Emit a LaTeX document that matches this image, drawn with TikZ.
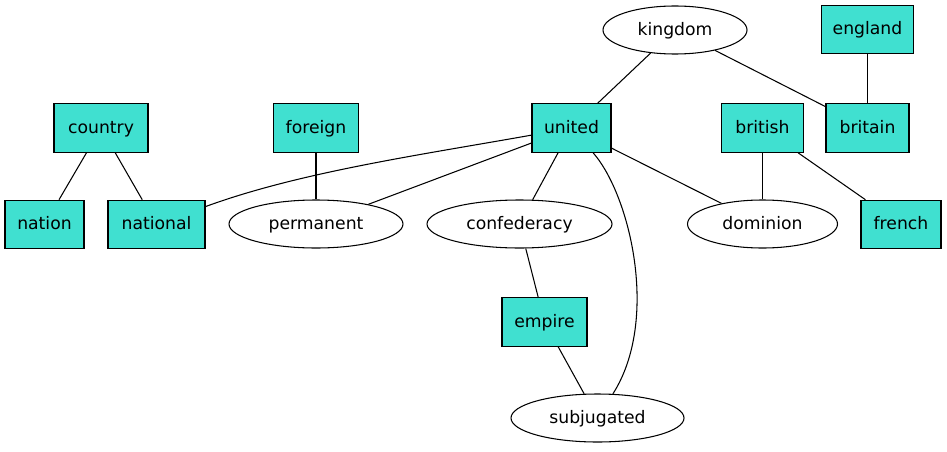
\documentclass[tikz,border=0pt]{standalone}
\usepackage{fontspec}
\setmainfont{DejaVu Sans}
\usepackage{tikz}
\usetikzlibrary{shapes.geometric}
\definecolor{turq}{HTML}{40E0D0}

\begin{document}
\begin{tikzpicture}[
        x=0.2mm, y=-0.2mm,
        term/.style={
            draw=black,
            fill=turq,
            rectangle,
            line width=0.6pt,
            minimum height=9.7mm,
            inner sep=0pt,
            text height=0.75em,
            text depth=0.18em,
            font=\fontsize{9.8pt}{11pt}\selectfont
          },
        word/.style={
            draw=black,
            fill=white,
            ellipse,
            line width=0.6pt,
            minimum height=9.6mm,
            inner sep=0pt,
            text height=0.75em,
            text depth=0.18em,
            font=\fontsize{9.8pt}{11pt}\selectfont
          },
        edge/.style={black, line width=0.6pt}
      ]
      \useasboundingbox (0,0) rectangle (947,451);

      \node[word, minimum width=28.8mm] (kingdom) at (675,30) {kingdom};
      \node[term, minimum width=18.4mm] (england) at (867.5,29.5) {england};

      \node[term, minimum width=18.8mm] (country) at (101,128) {country};
      \node[term, minimum width=17.0mm] (foreign) at (316,128) {foreign};
      \node[term, minimum width=15.8mm] (united) at (571.5,128) {united};
      \node[term, minimum width=16.4mm] (british) at (762.5,128) {british};
      \node[term, minimum width=16.6mm] (britain) at (867.5,128) {britain};

      \node[term, minimum width=15.8mm] (nation) at (44.5,224.5) {nation};
      \node[term, minimum width=19.4mm] (national) at (156.5,224.5) {national};
      \node[word, minimum width=34.8mm] (permanent) at (316,224) {permanent};
      \node[word, minimum width=37.0mm] (confederacy) at (519.5,224) {confederacy};
      \node[word, minimum width=30.0mm] (dominion) at (762.5,224) {dominion};
      \node[term, minimum width=16.0mm] (french) at (901,224.5) {french};

      \node[term, minimum width=17.0mm] (empire) at (544.5,322) {empire};
      \node[word, minimum width=34.6mm] (subjugated) at (597.5,418) {subjugated};

      \draw[edge] (kingdom) -- (united);
      \draw[edge] (kingdom) -- (britain);
      \draw[edge] (england) -- (britain);
      \draw[edge] (country) -- (nation);
      \draw[edge] (country) -- (national);
      \draw[edge] (foreign) -- (permanent);
      \draw[edge] (united) .. controls (420,155) and (300,172) .. (national);
      \draw[edge] (united) -- (permanent);
      \draw[edge] (united) -- (confederacy);
      \draw[edge] (united) -- (dominion);
      \draw[edge] (united) .. controls (630,195) and (660,320) .. (subjugated);
      \draw[edge] (british) -- (dominion);
      \draw[edge] (british) -- (french);
      \draw[edge] (confederacy) -- (empire);
      \draw[edge] (empire) -- (subjugated);
    \end{tikzpicture}
\end{document}
